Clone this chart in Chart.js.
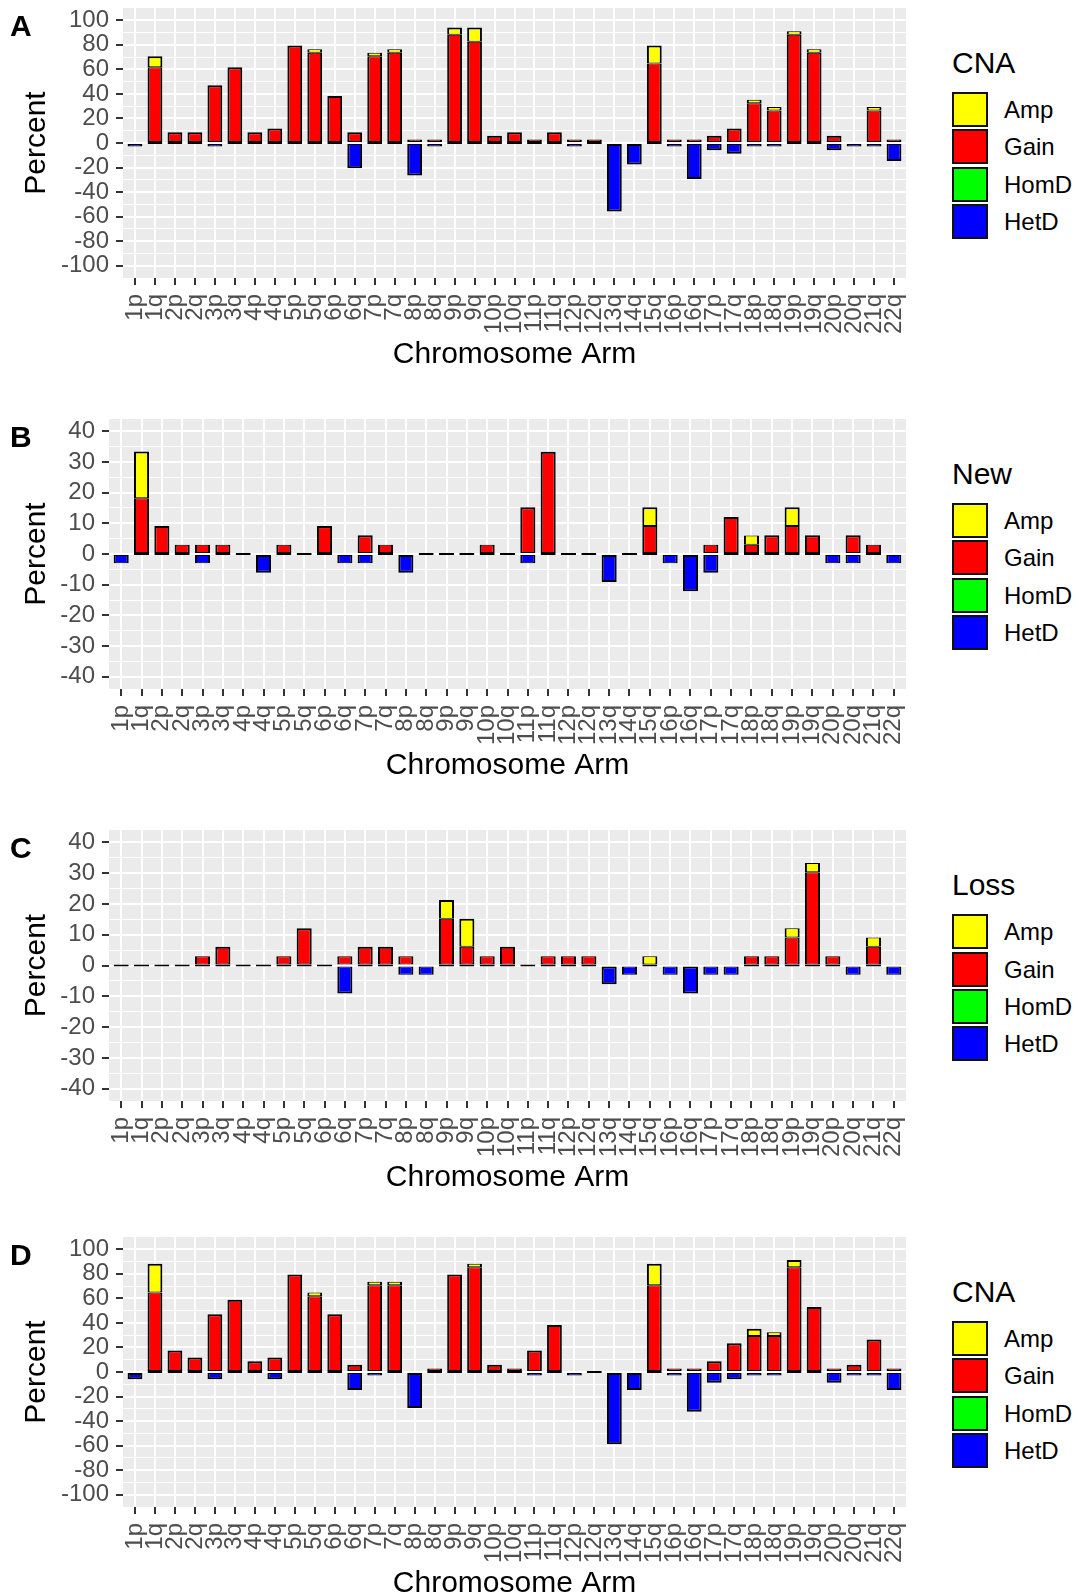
<!DOCTYPE html>
<html><head><meta charset="utf-8">
<script src="https://cdn.jsdelivr.net/npm/chart.js@4.4.1/dist/chart.umd.min.js"></script>
<style>
html,body{margin:0;padding:0;background:#fff;overflow:hidden;}
body{width:1079px;height:1595px;position:relative;font-family:"Liberation Sans",Arial,sans-serif;}
canvas{position:absolute;left:0;}
.tag{position:absolute;left:10px;font-weight:bold;font-size:30px;line-height:30px;color:#000;}
.lt{position:absolute;left:952px;font-size:30px;line-height:30px;color:#000;white-space:nowrap;}
.lb{position:absolute;left:952px;width:36px;height:35px;box-sizing:border-box;border:2px solid #111;}
.ll{position:absolute;left:1004px;font-size:24px;line-height:35px;color:#000;white-space:nowrap;}
</style></head><body>
<script>
const categories = ['1p','1q','2p','2q','3p','3q','4p','4q','5p','5q','6p','6q','7p','7q','8p','8q','9p','9q','10p','10q','11p','11q','12p','12q','13q','14q','15q','16p','16q','17p','17q','18p','18q','19p','19q','20p','20q','21q','22q'];
const seriesNames = ['Amp','Gain','HomD','HetD'];
const seriesColors = ['#FFFF00','#FF0000','#00FF00','#0000FF'];

// Panel A (CNA)
const ampA  = [0,8.8,0,0,0,0,0,0,0,2.9, 0,0,2.9,2.9,0,0,5.9,11.8,0,0, 0,0,0,0,0,0,14.7,0,0,0, 0,2.9,2.9,2.9,2.9,0,0,2.9,0];
const gainA = [0,61.8,8.8,8.8,47.1,61.8,8.8,11.8,79.4,73.5, 38.2,8.8,70.6,73.5,2.9,2.9,88.2,82.4,5.9,8.8, 2.9,8.8,2.9,2.9,0,0,64.7,2.9,2.9,5.9, 11.8,32.4,26.5,88.2,73.5,5.9,0,26.5,2.9];
const homdA = [0,0,0,0,0,0,0,0,0,0, 0,0,0,0,0,0,0,0,0,0, 0,0,0,0,0,0,0,0,0,0, 0,0,0,0,0,0,0,0,0];
const hetdA = [-2.9,0,0,0,-2.9,0,0,0,0,0, 0,-20.6,0,0,-26.5,-2.9,0,0,0,0, 0,0,-2.9,0,-55.9,-17.6,0,-2.9,-29.4,-5.9, -8.8,-2.9,-2.9,0,0,-5.9,-2.9,-2.9,-14.7];

// Panel B (New)
const ampB  = [0,15.2,0,0,0,0,0,0,0,0, 0,0,0,0,0,0,0,0,0,0, 0,0,0,0,0,0,6.1,0,0,0, 0,3.0,0,6.1,0,0,0,0,0];
const gainB = [0,18.2,9.1,3.0,3.0,3.0,0,0,3.0,0, 9.1,0,6.1,3.0,0,0,0,0,3.0,0, 15.2,33.3,0,0,0,0,9.1,0,0,3.0, 12.1,3.0,6.1,9.1,6.1,0,6.1,3.0,0];
const homdB = [0,0,0,0,0,0,0,0,0,0, 0,0,0,0,0,0,0,0,0,0, 0,0,0,0,0,0,0,0,0,0, 0,0,0,0,0,0,0,0,0];
const hetdB = [-3.0,0,0,0,-3.0,0,0,-6.1,0,0, 0,-3.0,-3.0,0,-6.1,0,0,0,0,0, -3.0,0,0,0,-9.1,0,0,-3.0,-12.1,-6.1, 0,0,0,0,0,-3.0,-3.0,0,-3.0];

// Panel C (Loss)
const ampC  = [0,0,0,0,0,0,0,0,0,0, 0,0,0,0,0,0,6.1,9.1,0,0, 0,0,0,0,0,0,3.0,0,0,0, 0,0,0,3.0,3.0,0,0,3.0,0];
const gainC = [0,0,0,0,3.0,6.1,0,0,3.0,12.1, 0,3.0,6.1,6.1,3.0,0,15.2,6.1,3.0,6.1, 0,3.0,3.0,3.0,0,0,0,0,0,0, 0,3.0,3.0,9.1,30.3,3.0,0,6.1,0];
const homdC = [0,0,0,0,0,0,0,0,0,0, 0,0,0,0,0,0,0,0,0,0, 0,0,0,0,0,0,0,0,0,0, 0,0,0,0,0,0,0,0,0];
const hetdC = [0,0,0,0,0,0,0,0,0,0, 0,-9.1,0,0,-3.0,-3.0,0,0,0,0, 0,0,0,0,-6.1,-3.0,0,-3.0,-9.1,-3.0, -3.0,0,0,0,0,0,-3.0,0,-3.0];

// Panel D (CNA)
const ampD  = [0,23.5,0,0,0,0,0,0,0,2.9, 0,0,2.9,2.9,0,0,0,2.9,0,0, 0,0,0,0,0,0,17.6,0,0,0, 0,5.9,2.9,5.9,0,0,0,0,0];
const gainD = [0,64.7,17.6,11.8,47.1,58.8,8.8,11.8,79.4,61.8, 47.1,5.9,70.6,70.6,0,2.9,79.4,85.3,5.9,2.9, 17.6,38.2,0,0,0,0,70.6,2.9,2.9,8.8, 23.5,29.4,29.4,85.3,52.9,2.9,5.9,26.5,2.9];
const homdD = [0,0,0,0,0,0,0,0,0,0, 0,0,0,0,0,0,0,0,0,0, 0,0,0,0,0,0,0,0,0,0, 0,0,0,0,0,0,0,0,0];
const hetdD = [-5.9,0,0,0,-5.9,0,0,-5.9,0,0, 0,-14.7,-2.9,0,-29.4,0,0,0,0,0, -2.9,0,-2.9,0,-58.8,-14.7,0,-2.9,-32.4,-8.8, -5.9,-2.9,-2.9,0,0,-8.8,-2.9,-2.9,-14.7];

const yTicksWide   = [-100,-80,-60,-40,-20,0,20,40,60,80,100];
const yTicksNarrow = [-40,-30,-20,-10,0,10,20,30,40];
const yLimitsWide   = [-110, 110];
const yLimitsNarrow = [-44, 44];
const xLimits = [-0.6, 38.6];

const panels = [
  {tag:'A', legendTitle:'CNA',  amp:ampA, gain:gainA, homd:homdA, hetd:hetdA, yTicks:yTicksWide,   yLim:yLimitsWide},
  {tag:'B', legendTitle:'New',  amp:ampB, gain:gainB, homd:homdB, hetd:hetdB, yTicks:yTicksNarrow, yLim:yLimitsNarrow},
  {tag:'C', legendTitle:'Loss', amp:ampC, gain:gainC, homd:homdC, hetd:hetdC, yTicks:yTicksNarrow, yLim:yLimitsNarrow},
  {tag:'D', legendTitle:'CNA',  amp:ampD, gain:gainD, homd:homdD, hetd:hetdD, yTicks:yTicksWide,   yLim:yLimitsWide}
];

// layout (pixels)
const layouts = [
  {left:123, top:8,    bottom:278},
  {left:109, top:419,  bottom:689},
  {left:109, top:830,  bottom:1101},
  {left:123, top:1237, bottom:1507}
];
const plotRight = 906, canvasW = 930, padTop = 8, xAxisH = 100;

Chart.defaults.font.family = "'Liberation Sans', Arial, sans-serif";

const panelBg = {
  id:'panelBg',
  beforeDraw(chart){
    const {ctx, chartArea:a} = chart;
    ctx.save(); ctx.fillStyle = '#EBEBEB';
    ctx.fillRect(a.left, a.top, a.right - a.left, a.bottom - a.top);
    ctx.restore();
  }
};

function addDiv(cls, text, top, extra){
  const d = document.createElement('div');
  d.className = cls; d.textContent = text || '';
  d.style.top = top + 'px';
  if (extra) Object.assign(d.style, extra);
  document.body.appendChild(d);
}

// outline width helper: thicker outer edge only on segments tall enough
const edge = (outer, v) => (outer && Math.abs(v) > 5) ? 2 : 1;

panels.forEach((p, k) => {
  const lay = layouts[k];
  const H = (lay.bottom - lay.top) + padTop + xAxisH;
  const cv = document.createElement('canvas');
  cv.width = canvasW; cv.height = H;
  cv.style.width = canvasW + 'px'; cv.style.height = H + 'px';
  cv.style.top = (lay.top - padTop) + 'px';
  document.body.appendChild(cv);

  const step = p.yTicks[1] - p.yTicks[0];
  const yt = [];
  p.yTicks.forEach((v, i) => {
    yt.push({value:v, minor:false});
    if (i < p.yTicks.length - 1) yt.push({value:v + step/2, minor:true});
  });

  const ds = (name, data, bw, extra) => Object.assign({
    label:name, data:data,
    backgroundColor: seriesColors[seriesNames.indexOf(name)],
    borderColor:'#000',
    borderWidth: bw,
    borderSkipped:false,
    categoryPercentage:1, barPercentage:0.74
  }, extra || {});

  new Chart(cv, {
    type:'bar',
    data:{
      labels: categories.map((c, i) => i),
      datasets:[
        ds('HetD', p.hetd, c => {
          const v = p.hetd[c.dataIndex];
          return {top: edge(!(p.gain[c.dataIndex] > 0), v), bottom: edge(true, v), left:2, right:2};
        }, {minBarLength:2}),
        ds('Gain', p.gain, c => {
          const v = p.gain[c.dataIndex];
          return {top: edge(!(p.amp[c.dataIndex] > 0), v), bottom:1, left:2, right:2};
        }),
        ds('Amp', p.amp, c => ({top: edge(true, p.amp[c.dataIndex]), bottom:1, left:2, right:2})),
        ds('HomD', p.homd, {top:1, bottom:1, left:2, right:2})
      ]
    },
    options:{
      responsive:false, animation:false, devicePixelRatio:1,
      layout:{padding:{top:padTop, left:0, right:canvasW - plotRight, bottom:0}},
      plugins:{legend:{display:false}, tooltip:{enabled:false}},
      scales:{
        x:{
          type:'linear', min:xLimits[0], max:xLimits[1], offset:false, stacked:true,
          afterBuildTicks: s => { s.ticks = categories.map((c, i) => ({value:i})); },
          afterFit: s => { s.height = xAxisH; s.paddingLeft = s.paddingRight = s.paddingTop = s.paddingBottom = 0; },
          ticks:{autoSkip:false, minRotation:90, maxRotation:90, padding:9, color:'#4D4D4D',
                 font:{size:24}, callback: v => categories[v]},
          grid:{color:'#FFFFFF', lineWidth:2, tickColor:'#333333', tickLength:7, tickWidth:2, offset:false},
          border:{display:false},
          title:{display:true, text:'Chromosome Arm', color:'#000', font:{size:30}, padding:{top:0, bottom:5}}
        },
        y:{
          min:p.yLim[0], max:p.yLim[1], stacked:true,
          afterBuildTicks: s => { s.ticks = yt.map(t => ({value:t.value, minor:t.minor})); },
          afterFit: s => { s.width = lay.left; s.paddingLeft = s.paddingRight = s.paddingTop = s.paddingBottom = 0; },
          ticks:{autoSkip:false, padding:7, color:'#4D4D4D', font:{size:24},
                 callback:(v, i, t) => (t[i] && t[i].minor) ? '' : String(v)},
          grid:{
            color:'#FFFFFF',
            lineWidth: c => (c.tick && c.tick.minor) ? 1 : 2,
            tickColor: c => (c.tick && c.tick.minor) ? 'rgba(0,0,0,0)' : '#333333',
            tickLength:7, tickWidth:2
          },
          border:{display:false},
          title:{display:true, text:'Percent', color:'#000', font:{size:30}, padding:{top:19, bottom:0}}
        }
      }
    },
    plugins:[panelBg]
  });

  // panel tag
  addDiv('tag', p.tag, lay.top + 2.6);
  // legend
  const pc = (lay.top + lay.bottom) / 2;
  addDiv('lt', p.legendTitle, pc - 95.1);
  seriesNames.forEach((n, i) => {
    const t = pc - 51.3 + i * 37.4;
    addDiv('lb', '', t, {background: seriesColors[i]});
    addDiv('ll', n, t);
  });
});
</script>
</body></html>
